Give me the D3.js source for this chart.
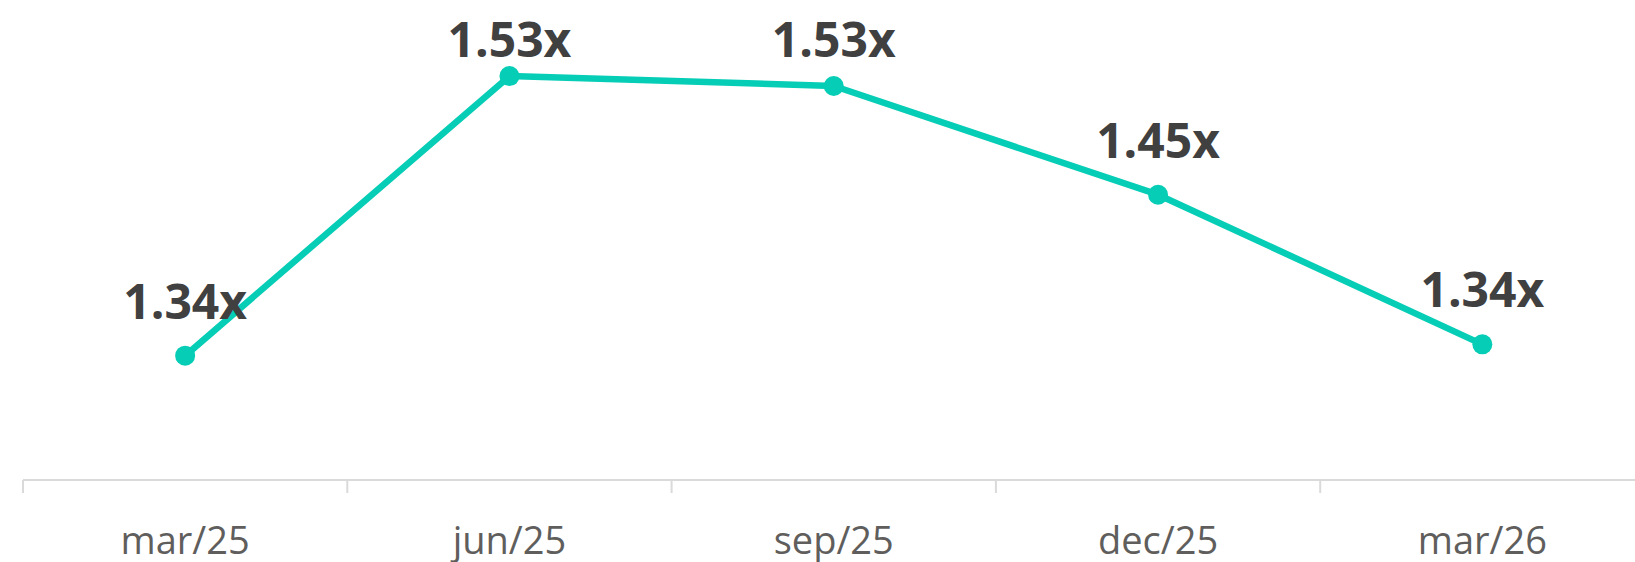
<!DOCTYPE html>
<html>
<head>
<meta charset="utf-8">
<script src="https://cdn.jsdelivr.net/npm/d3@7"></script>
<style>
  body { margin: 0; background: #fff; }
  svg { display: block; }
</style>
</head>
<body>
<script>
var w = 1635;
var h = 562;

var periods = ["mar/25", "jun/25", "sep/25", "dec/25", "mar/26"];
var ratios = [1.336, 1.534, 1.527, 1.450, 1.344];

var lineColor = "#06cdb5";
var axisY = 480;

var xScale = d3.scaleBand()
    .domain(periods)
    .range([23, 23 + 5 * 324.3]);

var yScale = d3.scaleLinear()
    .domain([1.30, 1.55])
    .range([406.5, 53.5]);

var svg = d3.select("body")
    .append("svg")
    .attr("width", w)
    .attr("height", h);

// axis line across the full width, ticks at band edges
svg.append("line")
    .attr("x1", 23)
    .attr("x2", w)
    .attr("y1", axisY)
    .attr("y2", axisY)
    .attr("stroke", "#dadada")
    .attr("stroke-width", 2);

svg.selectAll("line.tick")
    .data(periods)
    .enter()
    .append("line")
    .attr("class", "tick")
    .attr("x1", function(d){ return xScale(d); })
    .attr("x2", function(d){ return xScale(d); })
    .attr("y1", axisY)
    .attr("y2", axisY + 13)
    .attr("stroke", "#dadada")
    .attr("stroke-width", 2);

svg.selectAll("text.xlab")
    .data(periods)
    .enter()
    .append("text")
    .attr("class", "xlab")
    .attr("x", function(d){ return xScale(d) + xScale.bandwidth() / 2; })
    .attr("y", 554)
    .attr("text-anchor", "middle")
    .style("font-family", "'Open Sans', sans-serif")
    .style("font-size", "38px")
    .style("fill", "#605e5c")
    .text(function(d){ return d; });

var cx = function(d, i){ return xScale(periods[i]) + xScale.bandwidth() / 2; };

var line = d3.line()
    .x(cx)
    .y(function(d){ return yScale(d); });

svg.append("path")
    .datum(ratios)
    .attr("d", line)
    .attr("fill", "none")
    .attr("stroke", lineColor)
    .attr("stroke-width", 6.5)
    .attr("stroke-linejoin", "round");

svg.selectAll("circle")
    .data(ratios)
    .enter()
    .append("circle")
    .attr("cx", cx)
    .attr("cy", function(d){ return yScale(d); })
    .attr("r", 10)
    .attr("fill", lineColor);

svg.selectAll("text.val")
    .data(ratios)
    .enter()
    .append("text")
    .attr("class", "val")
    .attr("x", cx)
    .attr("y", function(d){ return Math.max(yScale(d) - 37, 57); })
    .attr("text-anchor", "middle")
    .style("font-family", "'Open Sans', sans-serif")
    .style("font-weight", "bold")
    .style("font-size", "48px")
    .style("fill", "#404040")
    .text(function(d){ return d3.format(".2f")(d) + "x"; });
</script>
</body>
</html>
